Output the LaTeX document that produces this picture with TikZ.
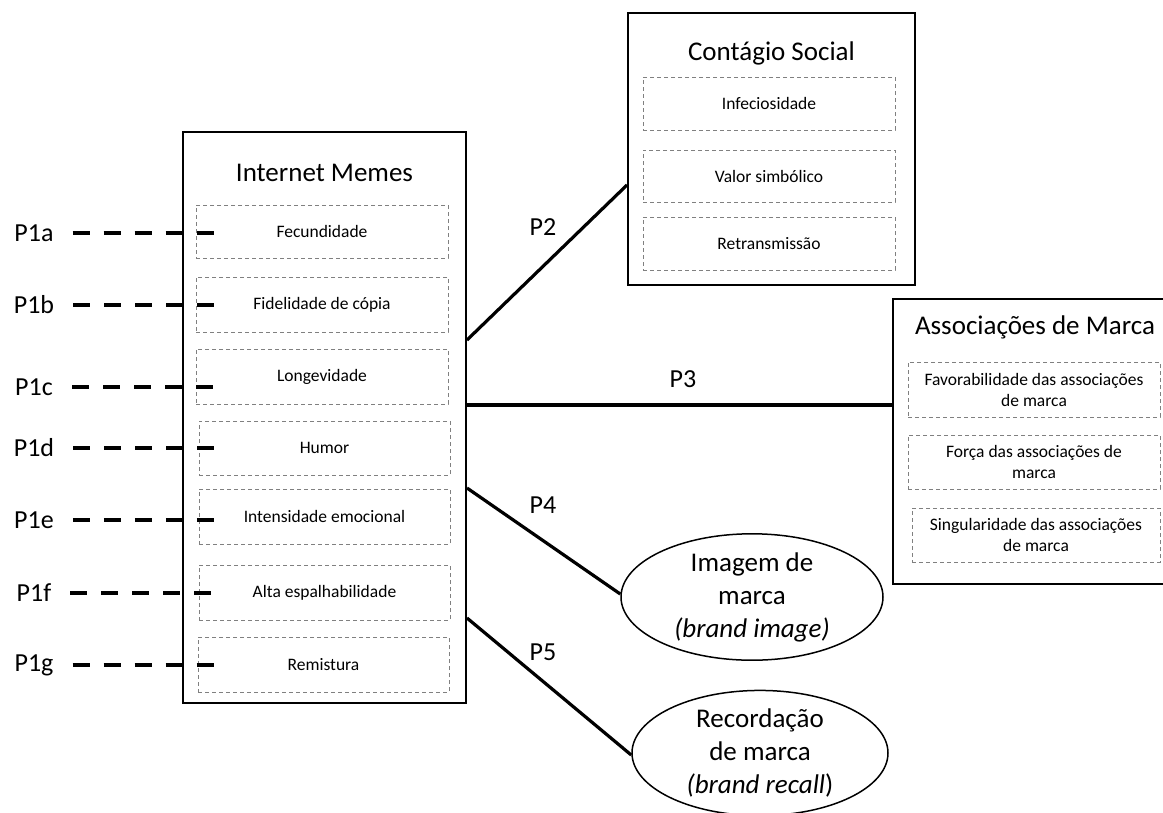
\documentclass[tikz,border=0pt]{standalone}
\usepackage{fontspec}
\setmainfont{Carlito}
\usetikzlibrary{shapes.geometric}
\tikzset{
  bigbox/.style={draw=black, line width=2pt, fill=white, inner sep=0pt},
  subbox/.style={draw=black!50, line width=1pt, dash pattern=on 4pt off 3pt, inner sep=0pt, align=center, font=\fontsize{17.5}{21}\selectfont},
  ttl/.style={font=\fontsize{27}{32}\selectfont, inner sep=0pt},
  plab/.style={font=\fontsize{26}{30}\selectfont, inner sep=0pt},
  pdash/.style={line width=3.5pt, dash pattern=on 17pt off 14pt},
  link/.style={line width=3.2pt},
  oval/.style={ellipse, draw=black, line width=1.5pt, fill=white, inner sep=0pt, align=center, font=\fontsize{27}{33}\selectfont},
}
\begin{document}
\begin{tikzpicture}[x=1pt, y=-1pt]
\useasboundingbox (0,0) rectangle (1163,812);
\clip (0,0) rectangle (1163,812);
\fill[white] (0,0) rectangle (1163,812);

% Internet Memes
\node[bigbox, minimum width=283pt, minimum height=571pt] (im) at (324.5,417.5) {};
\node[ttl] (imt) at (324.5,173) {Internet Memes};
\node[subbox, minimum width=252pt, minimum height=53pt] (s1) at (322,231.5) {Fecundidade};
\node[subbox, minimum width=252pt, minimum height=55pt] (s2) at (322,304.5) {Fidelidade de cópia};
\node[subbox, minimum width=252pt, minimum height=55pt] (s3) at (322,376.5) {Longevidade};
\node[subbox, minimum width=251pt, minimum height=54pt] (s4) at (324.5,448) {Humor};
\node[subbox, minimum width=251pt, minimum height=55pt] (s5) at (324.5,516.5) {Intensidade emocional};
\node[subbox, minimum width=251pt, minimum height=55pt] (s6) at (324.5,592.5) {Alta espalhabilidade};
\node[subbox, minimum width=251pt, minimum height=55pt] (s7) at (323.5,664.5) {Remistura};

% P1 labels
\node[plab] (p1a) at (34,233) {P1a};
\node[plab] (p1b) at (34,305) {P1b};
\node[plab] (p1c) at (34,387) {P1c};
\node[plab] (p1d) at (34,448) {P1d};
\node[plab] (p1e) at (34,520) {P1e};
\node[plab] (p1f) at (34,593) {P1f};
\node[plab] (p1g) at (34,665) {P1g};
\coordinate (e1a) at (218,233);
\coordinate (e1b) at (218,305);
\coordinate (e1c) at (218,387);
\coordinate (e1d) at (218,448);
\coordinate (e1e) at (218,520);
\coordinate (e1f) at (218,593);
\coordinate (e1g) at (218,665);
\draw[pdash] ([xshift=19pt]p1a.east) -- (e1a);
\draw[pdash] ([xshift=19pt]p1b.east) -- (e1b);
\draw[pdash] ([xshift=19pt]p1c.east) -- (e1c);
\draw[pdash] ([xshift=19pt]p1d.east) -- (e1d);
\draw[pdash] ([xshift=19pt]p1e.east) -- (e1e);
\draw[pdash] ([xshift=19pt]p1f.east) -- (e1f);
\draw[pdash] ([xshift=19pt]p1g.east) -- (e1g);

% Contagio Social
\node[bigbox, minimum width=287pt, minimum height=272pt] (cs) at (771.5,149) {};
\node[ttl] (cst) at (771.5,53) {Contágio Social};
\node[subbox, minimum width=252pt, minimum height=53pt] (c1) at (769,103.5) {Infeciosidade};
\node[subbox, minimum width=252pt, minimum height=52pt] (c2) at (769,176) {Valor simbólico};
\node[subbox, minimum width=252pt, minimum height=53pt] (c3) at (769,243.5) {Retransmissão};

% Associacoes de Marca
\node[bigbox, minimum width=280pt, minimum height=285pt] (am) at (1033,441.5) {};
\node[ttl] (amt) at (1035,327) {Associações de Marca};
\node[subbox, minimum width=252pt, minimum height=55pt] (a1) at (1034,389.5) {Favorabilidade das associações\\de marca};
\node[subbox, minimum width=252pt, minimum height=54pt] (a2) at (1034,462) {Força das associações de\\marca};
\node[subbox, minimum width=248pt, minimum height=54pt] (a3) at (1036,535) {Singularidade das associações\\de marca};

% Ellipses
\node[oval, minimum width=262pt, minimum height=115pt] (bi) at (752,597) {Imagem de\\marca\\\textit{(brand image)}};
\node[oval, minimum width=256pt, minimum height=112pt] (br) at (760,753) {Recordação\\de marca\\\textit{(brand recall}{)}};

% Links
\draw[link] (im.east |- 0,340) -- (cs.west |- 0,185);
\draw[link] (im.east |- 0,405) -- (am.west |- 0,405);
\draw[link] (im.east |- 0,488) -- (bi.west |- 0,594);
\draw[link] (im.east |- 0,618) -- (br.west |- 0,755);
\node[plab] (p2) at (543,227) {P2};
\node[plab] (p3) at (683,379) {P3};
\node[plab] (p4) at (543,505) {P4};
\node[plab] (p5) at (543,652) {P5};
\end{tikzpicture}
\end{document}
